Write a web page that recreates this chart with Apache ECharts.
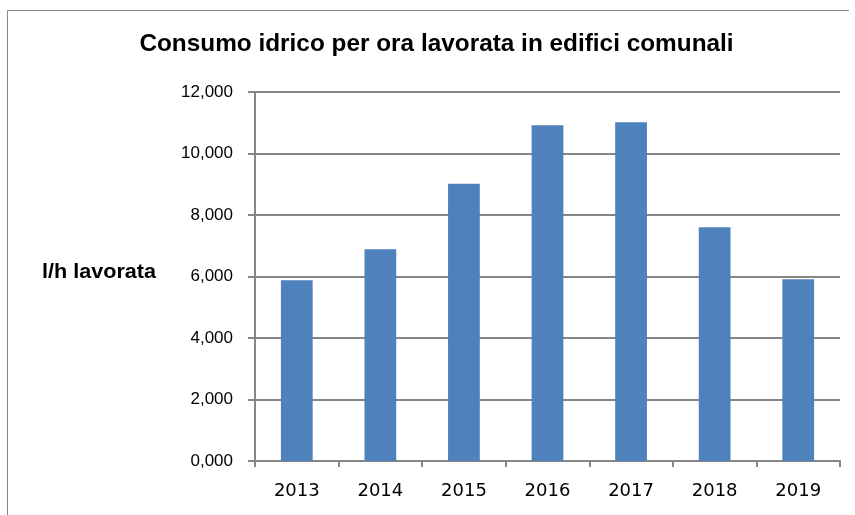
<!DOCTYPE html>
<html><head><meta charset="utf-8">
<script src="https://cdn.jsdelivr.net/npm/echarts@6/dist/echarts.min.js"></script>
<style>html,body{margin:0;padding:0;background:#fff}#c{width:855px;height:515px}</style>
</head><body><div id="c"></div>
<script>
const categories = ['2013','2014','2015','2016','2017','2018','2019'];
const values = [5880, 6890, 9020, 10920, 11015, 7600, 5910];
const titleText = 'Consumo idrico per ora lavorata in edifici comunali';
const yAxisName = 'l/h lavorata';

const chart = echarts.init(document.getElementById('c'), null, {renderer:'canvas'});
const grey = '#868686';
const fontFam = '"Liberation Sans", Arial, sans-serif';
chart.setOption({
  animation: false,
  graphic: [
    {type:'polyline', shape:{points:[[7.5,515],[7.5,10.5],[849,10.5]]}, style:{fill:'none', stroke:grey, lineWidth:1}},
    {type:'text', x:42, y:272, scaleX:1.08, style:{text:yAxisName, font:'bold 20px ' + fontFam, fill:'#000', verticalAlign:'middle', align:'left'}},
    {type:'text', x:436.5, y:44, scaleX:1.015, style:{text:titleText, font:'bold 24px ' + fontFam, fill:'#000', verticalAlign:'middle', align:'center'}}
  ],
  grid: {left:255, right:15, top:92, bottom:54, containLabel:false},
  xAxis: {type:'category', data:categories,
    axisLine:{lineStyle:{color:grey, width:2}},
    axisTick:{show:true, alignWithLabel:false, length:6, lineStyle:{color:grey, width:2}},
    axisLabel:{color:'#000', fontSize:18, fontFamily:'"DejaVu Sans", sans-serif', margin:21}},
  yAxis: {type:'value', min:0, max:12000, interval:2000,
    axisLine:{show:true, lineStyle:{color:grey, width:2}},
    axisTick:{show:true, length:7, lineStyle:{color:grey, width:2}},
    axisLabel:{color:'#000', fontSize:17, fontFamily:fontFam, margin:22,
      formatter: v => { if (v===0) return '0,000'; const s = String(Math.round(v)); return s.slice(0,-3)+','+s.slice(-3);} },
    splitLine:{lineStyle:{color:grey, width:2}}},
  series: [{type:'bar', data: values, barWidth:'38%', itemStyle:{color:'#4F81BD'}}]
});
</script></body></html>
